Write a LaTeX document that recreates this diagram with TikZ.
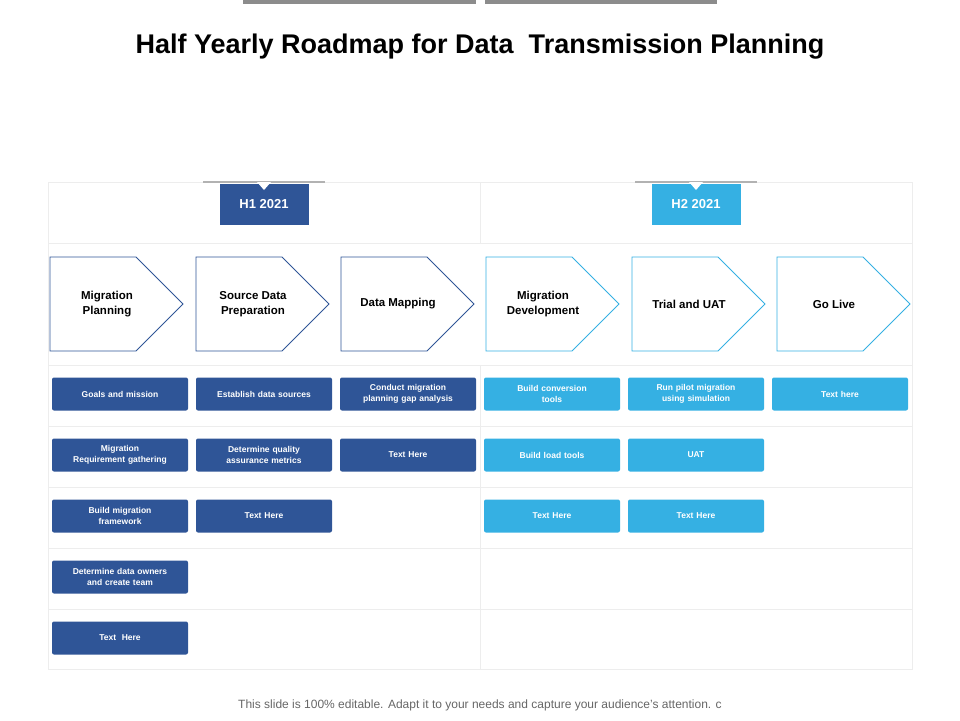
\documentclass[tikz,border=0pt]{standalone}
\usepackage{fontspec}
\setmainfont{Liberation Sans}
\usetikzlibrary{positioning}
\definecolor{darkblue}{HTML}{2F5597}
\definecolor{lightblue}{HTML}{35B0E3}
\definecolor{gridgray}{HTML}{EDEDED}
\tikzset{
  taskbox/.style={rounded corners=2pt,minimum width=136pt,minimum height=33pt,
    text width=134pt,align=center,text=white,font=\fontsize{8.5}{11}\selectfont\bfseries,inner sep=0pt},
  tab/.style={minimum width=89pt,minimum height=41pt,text=white,font=\fontsize{13}{15}\selectfont\bfseries,inner sep=0pt},
}
\newcommand{\chevron}[4]{% x, border colour, name, text
  \draw[#2,line width=0.8pt,fill=white] (#1,257)--++(86,0)--++(47,47)--++(-47,47)--++(-86,0)--cycle;
  \node[align=center,font=\fontsize{11.5}{15}\selectfont\bfseries] (#3) at (#1+57,304) {#4};}
\begin{document}
\begin{tikzpicture}[x=1pt,y=-1pt]
\useasboundingbox (0,0) rectangle (960,720);
% top bars and title
\fill[gray!90] (243,0) rectangle (476,4);
\fill[gray!90] (485,0) rectangle (717,4);
\node[font=\fontsize{27}{31}\selectfont\bfseries] (title) at (480,47) {Half Yearly Roadmap for Data\ \ Transmission Planning};
% grid
\draw[gridgray] (48,182) rectangle (912,669);
\draw[gridgray] (480,182)--(480,243);
\draw[gridgray] (480,365)--(480,669);
\foreach \y in {243,365,426,487,548,609}
  \draw[gridgray] (48,\y)--(912,\y);
% tabs
\foreach \x/\c/\t/\n in {264/darkblue/H1 2021/hone,696/lightblue/H2 2021/htwo}{
  \draw[gray!60,line width=2pt] (\x-61,182)--(\x+61,182);
  \node[tab,fill=\c] (\n) at (\x,204) {\t};
  \fill[white] (\x-7,182)--(\x+7,182)--(\x,190)--cycle;
}
% phases
\chevron{50}{darkblue}{pone}{Migration\\Planning}
\chevron{196}{darkblue}{ptwo}{Source Data\\Preparation}
\chevron{341}{darkblue}{pthree}{Data Mapping}
\chevron{486}{lightblue}{pfour}{Migration\\Development}
\chevron{632}{lightblue}{pfive}{Trial and UAT}
\chevron{777}{lightblue}{psix}{Go Live}
% tasks
\foreach \x/\y/\c/\t [count=\i] in {
  120/394/darkblue/Goals and mission,
  120/455/darkblue/Migration\\Requirement gathering,
  120/516/darkblue/Build migration\\framework,
  120/577/darkblue/Determine data owners\\and create team,
  120/638/darkblue/Text\ \ Here,
  264/394/darkblue/Establish data sources,
  264/455/darkblue/Determine quality\\assurance metrics,
  264/516/darkblue/Text Here,
  408/394/darkblue/Conduct migration\\planning gap analysis,
  408/455/darkblue/Text Here,
  552/394/lightblue/Build conversion\\tools,
  552/455/lightblue/Build load tools,
  552/516/lightblue/Text Here,
  696/394/lightblue/Run pilot migration\\using simulation,
  696/455/lightblue/UAT,
  696/516/lightblue/Text Here,
  840/394/lightblue/Text here}
  \node[taskbox,fill=\c] (task\i) at (\x,\y) {\t};
% footer
\node[font=\fontsize{12}{14}\selectfont,text=gray!80!black] (footer) at (480,705) {This slide is 100\% editable. Adapt it to your needs and capture your audience's attention. c};
\end{tikzpicture}
\end{document}
